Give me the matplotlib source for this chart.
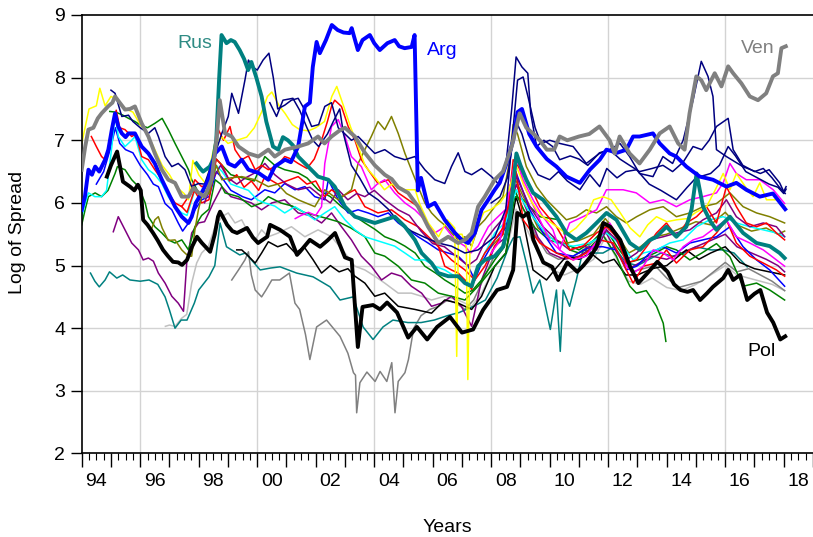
import matplotlib
matplotlib.use("Agg")
import matplotlib.pyplot as plt
from matplotlib.ticker import MultipleLocator

plt.rcParams["font.family"] = ["Liberation Sans", "DejaVu Sans"]

# --- highlighted countries: (year, log spread) ---
ven = [(1994.0, 6.53), (1994.12, 6.9), (1994.23, 7.17), (1994.4, 7.2), (1994.55, 7.35), (1994.68, 7.43),
       (1994.9, 7.54), (1995.05, 7.6), (1995.14, 7.70), (1995.3, 7.6), (1995.48, 7.49), (1995.65, 7.5),
       (1995.82, 7.54), (1996.05, 7.27), (1996.28, 7.06), (1996.5, 6.79), (1996.74, 6.53), (1996.96, 6.37),
       (1997.19, 6.32), (1997.42, 6.10), (1997.65, 6.10), (1997.82, 6.24), (1998.0, 6.16), (1998.2, 6.10),
       (1998.44, 6.37), (1998.62, 7.06), (1998.72, 7.64), (1998.9, 7.11), (1999.13, 7.06), (1999.36, 6.9),
       (1999.7, 6.79), (2000.04, 6.74), (2000.38, 6.85), (2000.6, 6.74), (2000.95, 6.85), (2001.4, 6.9),
       (2001.74, 6.95), (2002.08, 7.06), (2002.3, 6.95), (2002.54, 7.06), (2002.8, 7.15), (2003.0, 7.2),
       (2003.34, 7.06), (2003.68, 6.8), (2004.02, 6.6), (2004.36, 6.45), (2004.6, 6.38), (2004.82, 6.25),
       (2005.16, 6.16), (2005.5, 5.94), (2005.84, 5.62), (2006.19, 5.36), (2006.53, 5.46), (2006.87, 5.36),
       (2007.1, 5.41), (2007.33, 5.52), (2007.55, 5.94), (2007.78, 6.1), (2008.12, 6.37), (2008.4, 6.5),
       (2008.7, 6.9), (2008.97, 7.43), (2009.2, 7.2), (2009.45, 7.1), (2009.66, 7.0), (2009.9, 6.85),
       (2010.15, 6.85), (2010.34, 7.06), (2010.6, 7.0), (2011.0, 7.06), (2011.35, 7.1), (2011.7, 7.22),
       (2012.05, 7.0), (2012.22, 6.79), (2012.39, 7.06), (2012.73, 6.79), (2013.07, 6.63), (2013.42, 6.85),
       (2013.76, 7.11), (2014.1, 7.22), (2014.39, 6.95), (2014.61, 6.85), (2014.78, 7.43), (2015.01, 8.02),
       (2015.18, 7.96), (2015.35, 7.8), (2015.64, 8.07), (2015.87, 7.86), (2016.1, 8.18), (2016.27, 8.07),
       (2016.55, 7.91), (2016.84, 7.7), (2017.12, 7.64), (2017.4, 7.75), (2017.63, 8.02), (2017.8, 8.07),
       (2017.92, 8.47), (2018.07, 8.5)]

arg = [(1994.0, 5.89), (1994.11, 6.10), (1994.23, 6.53), (1994.35, 6.45), (1994.46, 6.58), (1994.6, 6.5),
       (1994.8, 6.69), (1994.91, 6.85), (1995.03, 7.17), (1995.14, 7.43), (1995.25, 7.22), (1995.37, 7.11),
       (1995.5, 7.05), (1995.6, 7.11), (1995.82, 7.11), (1995.94, 7.0), (1996.05, 6.9), (1996.28, 6.79),
       (1996.5, 6.63), (1996.74, 6.37), (1996.96, 6.16), (1997.19, 5.94), (1997.42, 5.78), (1997.65, 5.68),
       (1997.76, 5.78), (1997.9, 6.0), (1998.1, 6.16), (1998.33, 6.37), (1998.56, 6.79), (1998.79, 6.9),
       (1999.01, 6.63), (1999.24, 6.58), (1999.47, 6.69), (1999.7, 6.53), (2000.04, 6.48), (2000.38, 6.37),
       (2000.6, 6.58), (2000.95, 6.69), (2001.15, 6.65), (2001.4, 6.9), (2001.63, 7.54), (2001.8, 7.6),
       (2001.9, 8.17), (2002.03, 8.57), (2002.14, 8.39), (2002.35, 8.6), (2002.55, 8.84), (2002.75, 8.76),
       (2002.95, 8.72), (2003.16, 8.71), (2003.23, 8.79), (2003.44, 8.44), (2003.6, 8.6), (2003.85, 8.68),
       (2004.0, 8.55), (2004.19, 8.44), (2004.45, 8.55), (2004.7, 8.6), (2004.85, 8.5), (2005.04, 8.47),
       (2005.28, 8.49), (2005.38, 8.68), (2005.49, 6.2), (2005.6, 6.4), (2005.84, 5.94), (2006.07, 6.0),
       (2006.41, 5.73), (2006.76, 5.52), (2006.99, 5.41), (2007.21, 5.36), (2007.44, 5.52), (2007.67, 5.89),
       (2007.9, 6.05), (2008.12, 6.21), (2008.29, 6.32), (2008.5, 6.6), (2008.75, 7.0), (2008.9, 7.45),
       (2009.05, 7.5), (2009.3, 7.1), (2009.55, 6.9), (2009.9, 6.7), (2010.23, 6.58), (2010.57, 6.42),
       (2011.03, 6.32), (2011.37, 6.53), (2011.71, 6.69), (2011.94, 6.85), (2012.3, 6.8), (2012.62, 6.85),
       (2012.85, 7.06), (2013.07, 7.06), (2013.53, 7.11), (2013.76, 6.95), (2014.1, 6.79), (2014.33, 6.74),
       (2014.67, 6.58), (2015.13, 6.42), (2015.58, 6.37), (2016.04, 6.26), (2016.38, 6.32), (2016.72, 6.21),
       (2017.18, 6.1), (2017.63, 6.15), (2018.05, 5.9)]

rus = [(1997.92, 6.63), (1998.05, 6.55), (1998.15, 6.5), (1998.38, 6.58), (1998.5, 6.7), (1998.6, 7.0),
       (1998.7, 8.0), (1998.78, 8.68), (1998.95, 8.55), (1999.1, 8.6), (1999.23, 8.57), (1999.4, 8.44),
       (1999.55, 8.3), (1999.69, 8.12), (1999.8, 8.25), (1999.97, 8.0), (2000.15, 7.7), (2000.31, 7.3),
       (2000.54, 6.9), (2000.72, 6.85), (2000.88, 7.05), (2001.05, 7.0), (2001.22, 6.92), (2001.4, 6.74),
       (2001.74, 6.58), (2002.08, 6.42), (2002.43, 6.37), (2002.65, 6.26), (2003.0, 5.94), (2003.34, 5.78),
       (2003.68, 5.73), (2004.02, 5.68), (2004.36, 5.73), (2004.7, 5.78), (2005.05, 5.62), (2005.39, 5.41),
       (2005.62, 5.2), (2005.96, 5.04), (2006.19, 4.88), (2006.53, 4.83), (2006.87, 4.83), (2007.1, 4.72),
       (2007.33, 4.67), (2007.55, 4.99), (2007.78, 5.09), (2008.12, 5.15), (2008.4, 5.3), (2008.63, 5.73),
       (2008.86, 6.79), (2009.0, 6.6), (2009.2, 6.37), (2009.43, 6.16), (2009.77, 6.05), (2010.23, 5.78),
       (2010.57, 5.52), (2010.91, 5.41), (2011.25, 5.52), (2011.6, 5.68), (2011.94, 5.84), (2012.28, 5.73),
       (2012.74, 5.36), (2013.08, 5.25), (2013.4, 5.4), (2013.65, 5.46), (2013.99, 5.62), (2014.33, 5.46),
       (2014.67, 5.62), (2014.85, 5.9), (2015.02, 6.47), (2015.24, 5.94), (2015.5, 5.7), (2015.7, 5.57),
       (2016.16, 5.78), (2016.61, 5.52), (2017.07, 5.36), (2017.52, 5.31), (2017.86, 5.2), (2018.03, 5.12)]

pol = [(1994.86, 6.42), (1995.0, 6.6), (1995.21, 6.82), (1995.41, 6.34), (1995.65, 6.26), (1995.8, 6.2),
       (1995.92, 6.29), (1996.02, 6.2), (1996.10, 5.73), (1996.25, 5.65), (1996.44, 5.52), (1996.6, 5.4),
       (1996.78, 5.25), (1996.95, 5.15), (1997.12, 5.06), (1997.3, 5.05), (1997.43, 5.01), (1997.60, 5.09),
       (1997.77, 5.3), (1997.94, 5.46), (1998.11, 5.36), (1998.39, 5.22), (1998.55, 5.5), (1998.66, 5.78),
       (1998.73, 5.86), (1998.97, 5.65), (1999.15, 5.55), (1999.31, 5.52), (1999.65, 5.6), (1999.85, 5.45),
       (2000.03, 5.36), (2000.34, 5.46), (2000.44, 5.65), (2000.78, 5.57), (2001.12, 5.46), (2001.36, 5.17),
       (2001.46, 5.22), (2001.80, 5.41), (2002.15, 5.3), (2002.4, 5.4), (2002.66, 5.52), (2003.0, 5.13),
       (2003.23, 5.09), (2003.44, 3.7), (2003.6, 4.34), (2003.96, 4.37), (2004.2, 4.3), (2004.44, 4.41),
       (2004.78, 4.25), (2005.16, 3.85), (2005.46, 4.02), (2005.81, 3.82), (2006.15, 4.02), (2006.59, 4.18),
       (2007.0, 3.93), (2007.38, 3.98), (2007.72, 4.29), (2008.2, 4.61), (2008.54, 4.66), (2008.75, 4.93),
       (2008.89, 5.84), (2009.09, 5.78), (2009.26, 5.84), (2009.44, 5.41), (2009.78, 5.05), (2010.08, 4.98),
       (2010.29, 4.77), (2010.6, 5.05), (2010.94, 4.9), (2011.15, 5.0), (2011.39, 5.14), (2011.6, 5.3),
       (2011.83, 5.68), (2012.07, 5.62), (2012.41, 5.41), (2012.75, 4.98), (2013.03, 4.72), (2013.34, 4.88),
       (2013.68, 5.06), (2014.03, 4.9), (2014.25, 4.7), (2014.47, 4.61), (2014.71, 4.58), (2014.90, 4.61),
       (2015.14, 4.45), (2015.38, 4.56), (2015.58, 4.66), (2015.93, 4.8), (2016.10, 4.93), (2016.27, 4.77),
       (2016.51, 4.85), (2016.75, 4.45), (2017.0, 4.55), (2017.20, 4.61), (2017.43, 4.25), (2017.64, 4.09),
       (2017.88, 3.82), (2018.05, 3.87)]

# --- other countries ---
yellow = [(1994.0, 6.95), (1994.25, 7.5), (1994.5, 7.55), (1994.62, 7.83), (1994.8, 7.55), (1995.0, 7.7),
          (1995.2, 7.65), (1995.5, 7.5), (1995.75, 7.45), (1996.0, 7.25), (1996.25, 7.1), (1996.5, 6.85),
          (1996.75, 6.6), (1997.0, 6.45), (1997.25, 6.25), (1997.5, 6.15), (1997.65, 6.05), (1997.8, 6.68),
          (1998.0, 6.45), (1998.25, 6.3), (1998.55, 6.95), (1998.8, 7.05), (1999.0, 6.95), (1999.3, 7.0),
          (1999.64, 7.05), (1999.9, 7.2), (2000.15, 7.45), (2000.35, 7.7), (2000.5, 7.77), (2000.75, 7.55),
          (2000.95, 7.43), (2001.2, 7.25), (2001.45, 7.17), (2001.75, 7.15), (2002.0, 7.2), (2002.3, 7.3),
          (2002.55, 7.7), (2002.72, 7.86), (2002.95, 7.55), (2003.2, 7.2), (2003.45, 6.9), (2003.7, 6.58),
          (2004.0, 6.42), (2004.35, 6.21), (2004.6, 6.3), (2005.05, 6.21), (2005.4, 6.21), (2005.55, 5.99),
          (2005.85, 5.68), (2006.2, 5.46), (2006.5, 5.73), (2006.75, 5.6), (2006.82, 3.55), (2006.88, 5.5),
          (2007.0, 5.5), (2007.15, 5.3), (2007.2, 3.18), (2007.27, 5.2), (2007.5, 5.6), (2007.75, 5.85),
          (2008.0, 5.9), (2008.3, 6.0), (2008.6, 6.2), (2008.85, 6.6), (2009.1, 6.3), (2009.4, 6.0),
          (2009.7, 5.8), (2010.0, 5.7), (2010.3, 5.6), (2010.6, 5.5), (2010.9, 5.6), (2011.25, 5.78),
          (2011.5, 6.05), (2011.82, 6.10), (2012.1, 6.05), (2012.4, 5.85), (2012.75, 5.6), (2013.08, 5.46),
          (2013.35, 5.65), (2013.65, 5.78), (2014.0, 5.7), (2014.33, 5.73), (2014.7, 5.75), (2015.0, 5.85),
          (2015.36, 5.94), (2015.65, 6.2), (2015.93, 6.47), (2016.16, 6.21), (2016.38, 6.47), (2016.7, 6.25),
          (2016.95, 6.10), (2017.18, 6.32), (2017.41, 6.05), (2017.75, 6.05), (2018.05, 5.94)]

navy_a = [(1995.0, 7.8), (1995.14, 7.75), (1995.37, 7.38), (1995.6, 7.4), (1995.75, 7.3), (1996.0, 7.2),
          (1996.28, 7.11), (1996.5, 7.2), (1996.62, 7.06), (1996.85, 6.74), (1997.08, 6.58), (1997.3, 6.63),
          (1997.53, 6.53), (1997.76, 6.26), (1997.99, 6.31), (1998.2, 6.3), (1998.5, 6.7), (1998.79, 7.11),
          (1999.01, 7.38), (1999.13, 7.75), (1999.36, 7.43), (1999.58, 7.96), (1999.7, 8.28), (1999.85, 8.17),
          (2000.0, 8.12), (2000.2, 8.28), (2000.4, 8.39), (2000.55, 8.0), (2000.7, 7.5), (2000.94, 7.56),
          (2001.17, 7.64), (2001.4, 7.67), (2001.63, 7.48), (2001.86, 7.22), (2002.1, 7.25), (2002.31, 7.54),
          (2002.54, 7.6), (2002.77, 7.2), (2003.0, 7.1), (2003.22, 7.0), (2003.45, 7.06), (2003.68, 6.95),
          (2004.02, 6.79), (2004.36, 6.85), (2004.7, 6.74), (2005.05, 6.69), (2005.39, 6.74), (2005.73, 6.53),
          (2006.07, 6.37), (2006.41, 6.31), (2006.64, 6.58), (2006.87, 6.8), (2007.1, 6.5), (2007.33, 6.45),
          (2007.67, 6.55), (2008.01, 6.42), (2008.25, 6.3), (2008.5, 6.6), (2008.7, 7.5), (2008.85, 8.33),
          (2009.05, 8.17), (2009.25, 8.07), (2009.35, 7.43), (2009.55, 6.9), (2009.8, 7.0), (2010.1, 6.9),
          (2010.34, 6.69), (2010.7, 6.75), (2011.0, 6.7), (2011.3, 6.6), (2011.7, 6.8), (2012.05, 6.85),
          (2012.4, 6.7), (2012.73, 6.6), (2013.07, 6.5), (2013.5, 6.55), (2013.87, 6.6), (2014.2, 6.5),
          (2014.56, 6.65), (2014.9, 6.9), (2015.2, 6.85), (2015.45, 7.0), (2015.7, 7.22), (2016.1, 7.35),
          (2016.27, 6.85), (2016.6, 6.6), (2017.0, 6.5), (2017.3, 6.55), (2017.6, 6.4), (2017.85, 6.25),
          (2018.05, 6.15)]

navy_b = [(2000.43, 7.6), (2000.66, 7.38), (2000.88, 7.64), (2001.22, 7.67), (2001.45, 7.48), (2001.7, 7.2),
          (2001.9, 7.0), (2002.1, 6.9), (2002.4, 7.1), (2002.6, 7.3), (2002.82, 7.5), (2002.95, 7.1),
          (2003.22, 6.6), (2003.5, 6.4), (2003.79, 6.16), (2004.13, 6.05), (2004.48, 5.9), (2004.82, 5.7),
          (2005.27, 5.55), (2005.73, 5.45), (2006.19, 5.36), (2006.64, 5.31), (2007.1, 5.2), (2007.55, 5.25),
          (2008.12, 5.46), (2008.5, 5.9), (2008.75, 7.2), (2008.9, 7.96), (2009.09, 8.01), (2009.26, 7.69),
          (2009.5, 7.2), (2009.7, 6.95), (2010.0, 7.0), (2010.34, 6.95), (2010.8, 6.9), (2011.25, 6.63),
          (2011.7, 6.79), (2012.05, 6.85), (2012.4, 6.95), (2012.73, 6.74), (2013.07, 6.47), (2013.53, 6.42),
          (2013.87, 6.74), (2014.2, 6.63), (2014.56, 7.0), (2014.9, 7.64), (2015.18, 8.26), (2015.41, 8.02),
          (2015.58, 7.7), (2015.7, 6.85), (2016.04, 6.74), (2016.6, 6.58), (2017.2, 6.47), (2017.5, 6.53),
          (2017.86, 6.32), (2018.0, 6.18), (2018.08, 6.26)]

navy_c = [(2008.0, 6.0), (2008.3, 6.1), (2008.55, 6.4), (2008.85, 7.3), (2009.05, 7.1), (2009.3, 6.7),
          (2009.6, 6.45), (2010.0, 6.37), (2010.3, 6.5), (2010.6, 6.35), (2011.03, 6.21), (2011.37, 6.45),
          (2011.71, 6.26), (2011.95, 6.55), (2012.3, 6.4), (2012.6, 6.5), (2012.97, 6.53), (2013.4, 6.3),
          (2013.8, 6.2), (2014.33, 6.05), (2014.7, 6.25), (2015.0, 6.4), (2015.5, 6.47), (2015.8, 6.6),
          (2016.1, 6.9), (2016.35, 6.75), (2016.7, 6.5), (2017.1, 6.4), (2017.5, 6.3), (2017.8, 6.25),
          (2018.0, 6.15), (2018.08, 6.22)]

red_a = [(1994.33, 7.06), (1994.5, 6.9), (1994.68, 6.74), (1994.8, 6.69), (1994.95, 6.9), (1995.05, 7.2),
         (1995.18, 7.48), (1995.3, 7.2), (1995.48, 7.17), (1995.71, 7.06), (1995.85, 7.1), (1996.05, 6.74),
         (1996.28, 6.69), (1996.5, 6.53), (1996.74, 6.37), (1996.96, 6.16), (1997.19, 6.0), (1997.42, 5.94),
         (1997.65, 6.1), (1997.87, 6.37), (1998.1, 6.26), (1998.35, 6.3), (1998.55, 6.8), (1998.67, 7.17),
         (1998.85, 7.0), (1999.07, 7.22), (1999.24, 6.85), (1999.47, 6.69), (1999.7, 6.75), (1999.93, 6.53),
         (2000.15, 6.6), (2000.38, 6.53), (2000.7, 6.6), (2000.94, 6.74), (2001.17, 6.7), (2001.4, 6.63),
         (2001.7, 6.55), (2001.95, 6.7), (2002.2, 7.0), (2002.4, 7.3), (2002.54, 7.54), (2002.65, 7.64),
         (2002.88, 7.54), (2003.11, 7.22), (2003.34, 7.0), (2003.56, 6.69), (2003.79, 6.53), (2004.13, 6.31),
         (2004.48, 6.37), (2004.82, 6.16), (2005.16, 6.05), (2005.5, 5.94), (2005.73, 5.73), (2005.96, 5.52),
         (2006.19, 5.31), (2006.41, 4.99), (2006.64, 4.93), (2006.87, 4.88), (2007.1, 4.77), (2007.33, 4.62),
         (2007.55, 4.99), (2007.78, 5.2), (2008.12, 5.41), (2008.4, 5.6), (2008.6, 6.0), (2008.75, 6.69),
         (2009.09, 6.47), (2009.4, 6.2), (2009.66, 5.94), (2010.23, 5.62), (2010.68, 5.25), (2011.14, 5.31),
         (2011.6, 5.52), (2011.94, 5.62), (2012.28, 5.46), (2012.62, 5.04), (2012.97, 5.09), (2013.31, 5.3),
         (2013.65, 5.52), (2013.99, 5.68), (2014.33, 5.46), (2014.67, 5.68), (2015.02, 5.78), (2015.36, 5.94),
         (2015.7, 5.68), (2016.04, 6.26), (2016.38, 5.94), (2016.72, 5.68), (2017.07, 5.62), (2017.41, 5.68),
         (2017.75, 5.52), (2018.03, 5.41)]

red_b = [(1997.4, 5.95), (1997.6, 5.85), (1997.85, 6.2), (1998.1, 6.0), (1998.35, 6.05), (1998.6, 6.7),
         (1998.8, 6.6), (1999.05, 6.35), (1999.3, 6.45), (1999.55, 6.25), (1999.8, 6.35), (2000.05, 6.2),
         (2000.26, 6.42), (2000.7, 6.3), (2001.0, 6.35), (2001.4, 6.42), (2001.7, 6.3), (2002.0, 6.35),
         (2002.3, 6.1), (2002.54, 6.21), (2002.88, 6.1), (2003.34, 6.21), (2003.68, 5.94), (2004.13, 5.84),
         (2004.59, 5.89), (2005.05, 5.73), (2005.5, 5.62), (2005.96, 5.41), (2006.3, 5.25), (2006.64, 5.09),
         (2007.1, 4.93), (2007.44, 4.77), (2007.78, 4.99), (2008.12, 5.31), (2008.4, 5.5), (2008.63, 6.26),
         (2008.85, 6.5), (2009.09, 5.73), (2009.66, 5.36), (2010.23, 5.2), (2010.8, 5.09), (2011.25, 5.2),
         (2011.71, 5.41), (2012.17, 5.36), (2012.62, 4.93), (2012.85, 4.72), (2013.2, 4.99), (2013.65, 5.04),
         (2013.99, 5.25), (2014.33, 5.04), (2014.79, 5.25), (2015.24, 5.3), (2015.7, 5.52), (2016.04, 5.73),
         (2016.38, 5.36), (2016.84, 5.15), (2017.3, 5.04), (2017.75, 4.93), (2018.03, 4.83)]

green_a = [(1994.0, 5.65), (1994.12, 5.9), (1994.23, 6.1), (1994.46, 6.16), (1994.68, 6.1), (1994.9, 6.2),
           (1995.14, 6.47), (1995.22, 6.58), (1995.48, 6.53), (1995.71, 6.37), (1995.94, 6.26), (1996.17, 6.0),
           (1996.28, 5.78), (1996.5, 5.62), (1996.74, 5.52), (1996.96, 5.41), (1997.19, 5.36), (1997.42, 5.41),
           (1997.65, 5.25), (1997.87, 5.62), (1998.1, 5.8), (1998.35, 5.9), (1998.56, 6.37), (1998.75, 6.3),
           (1998.9, 6.16), (1999.36, 6.1), (1999.81, 5.94), (2000.15, 6.0), (2000.38, 6.1), (2000.8, 6.0),
           (2001.2, 5.95), (2001.6, 5.85), (2002.0, 5.8), (2002.4, 5.75), (2002.77, 5.7), (2003.2, 5.6),
           (2003.68, 5.46), (2004.02, 5.2), (2004.36, 5.15), (2004.82, 4.99), (2005.27, 4.77), (2005.73, 4.72),
           (2006.19, 4.56), (2006.64, 4.51), (2007.1, 4.45), (2007.55, 4.67), (2008.12, 4.99), (2008.5, 5.2),
           (2008.8, 6.1), (2009.09, 6.05), (2009.66, 5.78), (2010.34, 5.73), (2010.68, 5.25), (2011.0, 5.2),
           (2011.4, 5.3), (2011.8, 5.5), (2012.28, 5.15), (2012.5, 4.9), (2012.74, 4.67), (2012.96, 4.56),
           (2013.3, 4.6), (2013.65, 4.35), (2013.88, 4.08), (2013.97, 3.79)]

green_b = [(1994.96, 7.46), (1995.15, 7.45), (1995.37, 7.41), (1995.6, 7.35), (1995.82, 7.3), (1995.98, 7.25),
           (1996.25, 7.2), (1996.5, 7.27), (1996.75, 7.35), (1996.96, 7.17), (1997.19, 6.95), (1997.42, 6.74),
           (1997.65, 6.53), (1997.76, 6.37), (1998.0, 6.16), (1998.3, 6.2), (1998.6, 6.7), (1998.8, 6.6),
           (1999.1, 6.45), (1999.5, 6.4), (1999.9, 6.35), (2000.26, 6.74), (2000.6, 6.6), (2000.94, 6.53),
           (2001.4, 6.48), (2001.7, 6.4), (2002.08, 6.21), (2002.5, 6.1), (2002.88, 5.94), (2003.3, 5.8),
           (2003.68, 5.68), (2004.02, 5.58), (2004.36, 5.46), (2004.7, 5.4), (2005.05, 5.31), (2005.4, 5.2),
           (2005.73, 4.99), (2006.1, 4.88), (2006.41, 4.77), (2006.76, 4.67), (2007.1, 4.56), (2007.35, 4.6),
           (2007.67, 4.77), (2008.12, 5.09), (2008.45, 5.3), (2008.8, 6.2), (2009.1, 5.9), (2009.5, 5.6),
           (2010.0, 5.4), (2010.5, 5.35), (2011.0, 5.25), (2011.5, 5.4), (2011.9, 5.6), (2012.3, 5.3),
           (2012.7, 5.05), (2013.1, 5.1), (2013.6, 5.2), (2014.0, 5.3), (2014.33, 5.25), (2014.79, 5.09),
           (2015.2, 5.2), (2015.7, 5.35), (2016.16, 5.14), (2016.61, 4.67), (2017.07, 4.72), (2017.52, 4.61),
           (2018.03, 4.45)]

cyan = [(1994.0, 5.78), (1994.12, 6.0), (1994.23, 6.16), (1994.45, 6.1), (1994.68, 6.1), (1994.85, 6.2),
        (1995.03, 6.9), (1995.14, 7.43), (1995.25, 7.06), (1995.48, 6.9), (1995.71, 7.0), (1995.82, 7.06),
        (1995.95, 6.85), (1996.05, 6.69), (1996.28, 6.53), (1996.5, 6.45), (1996.74, 6.31), (1996.96, 6.1),
        (1997.19, 5.94), (1997.42, 5.84), (1997.6, 5.8), (1997.87, 6.21), (1998.1, 6.1), (1998.35, 6.15),
        (1998.6, 6.6), (1998.8, 6.5), (1999.1, 6.3), (1999.4, 6.25), (1999.7, 6.2), (2000.0, 6.05),
        (2000.26, 6.0), (2000.6, 5.95), (2000.94, 5.84), (2001.29, 5.94), (2001.63, 5.84), (2001.97, 5.73),
        (2002.31, 5.84), (2002.65, 5.94), (2003.0, 5.73), (2003.34, 5.57), (2003.68, 5.46), (2004.02, 5.41),
        (2004.36, 5.36), (2004.7, 5.31), (2005.05, 5.2), (2005.39, 5.09), (2005.73, 5.09), (2006.07, 4.99),
        (2006.41, 4.93), (2006.76, 4.83), (2007.1, 4.77), (2007.33, 4.67), (2007.55, 4.99), (2007.9, 5.31),
        (2008.12, 5.52), (2008.5, 5.7), (2008.86, 6.21), (2009.32, 5.84), (2009.77, 5.57), (2010.23, 5.36),
        (2010.8, 5.31), (2011.37, 5.36), (2011.94, 5.52), (2012.51, 5.3), (2012.85, 5.09), (2013.2, 5.2),
        (2013.65, 5.25), (2014.1, 5.36), (2014.56, 5.41), (2015.02, 5.62), (2015.47, 5.73), (2015.93, 5.78),
        (2016.38, 5.68), (2016.84, 5.62), (2017.3, 5.57), (2017.75, 5.52), (2018.03, 5.46)]

magenta_a = [(2001.3, 5.75), (2001.5, 5.8), (2001.75, 5.85), (2002.0, 5.8), (2002.2, 5.94), (2002.31, 6.63),
             (2002.54, 7.22), (2002.77, 7.33), (2003.0, 7.06), (2003.22, 6.74), (2003.56, 6.58), (2003.9, 6.21),
             (2004.1, 6.3), (2004.36, 6.37), (2004.7, 6.16), (2005.05, 6.0), (2005.39, 5.89), (2005.73, 5.73),
             (2006.07, 5.52), (2006.41, 5.62), (2006.76, 5.41), (2007.1, 5.31), (2007.3, 5.2), (2007.55, 5.31),
             (2007.9, 5.62), (2008.12, 5.73), (2008.5, 5.9), (2008.86, 6.79), (2009.09, 6.37), (2009.43, 6.05),
             (2009.77, 5.78), (2010.11, 5.57), (2010.34, 5.25), (2010.68, 5.68), (2011.14, 5.78), (2011.6, 5.89),
             (2011.94, 6.21), (2012.51, 6.21), (2012.96, 6.16), (2013.42, 6.0), (2013.88, 6.05), (2014.33, 5.94),
             (2014.79, 6.05), (2015.24, 6.1), (2015.7, 6.16), (2015.93, 6.32), (2016.16, 6.63), (2016.38, 6.47),
             (2016.72, 6.37), (2017.18, 6.37), (2017.64, 6.21), (2018.03, 5.99)]

magenta_b = [(2008.0, 5.2), (2008.3, 5.4), (2008.63, 6.21), (2008.86, 6.74), (2009.1, 6.3), (2009.66, 5.73),
             (2010.0, 5.41), (2010.34, 5.25), (2010.8, 5.09), (2011.25, 5.15), (2011.71, 5.46), (2012.05, 5.68),
             (2012.4, 5.41), (2012.62, 4.99), (2012.85, 4.88), (2013.2, 4.99), (2013.54, 5.25), (2013.88, 5.2),
             (2014.22, 5.09), (2014.56, 5.3), (2014.9, 5.41), (2015.24, 5.46), (2015.7, 5.62), (2016.04, 5.73),
             (2016.38, 5.46), (2016.84, 5.36), (2017.3, 5.25), (2017.75, 5.09), (2018.03, 4.99)]

purple_a = [(1995.08, 5.54), (1995.25, 5.78), (1995.48, 5.57), (1995.71, 5.36), (1995.94, 5.25), (1996.1, 5.09),
            (1996.28, 5.12), (1996.45, 5.07), (1996.62, 4.88), (1996.85, 4.72), (1997.08, 4.51), (1997.3, 4.4),
            (1997.48, 4.27), (1997.59, 5.04), (1997.76, 5.52), (1997.99, 5.68), (1998.2, 5.7), (1998.5, 6.0),
            (1998.79, 6.26), (1999.1, 6.1), (1999.47, 6.05), (1999.8, 6.0), (2000.15, 5.89), (2000.5, 6.0),
            (2000.94, 6.05), (2001.4, 5.84), (2001.8, 5.8), (2002.2, 5.68), (2002.54, 5.84), (2002.88, 5.62),
            (2003.22, 5.41), (2003.56, 5.15), (2003.9, 4.99), (2004.25, 4.77), (2004.59, 4.88), (2004.93, 4.83),
            (2005.27, 4.67), (2005.62, 4.56), (2005.96, 4.35), (2006.3, 4.4), (2006.64, 4.51), (2006.98, 4.35),
            (2007.33, 4.03), (2007.67, 4.77), (2008.12, 5.31), (2008.5, 5.45), (2008.85, 6.3), (2009.2, 5.9),
            (2009.6, 5.45), (2010.0, 5.2), (2010.5, 5.1), (2011.0, 5.15), (2011.5, 5.3), (2011.9, 5.55),
            (2012.3, 5.2), (2012.7, 4.95), (2013.1, 5.05), (2013.5, 5.15), (2014.0, 5.1), (2014.5, 5.2),
            (2015.0, 5.3), (2015.5, 5.4), (2016.0, 5.5), (2016.4, 5.3), (2016.9, 5.2), (2017.4, 5.1),
            (2017.8, 5.0), (2018.03, 4.9)]

purple_b = [(1998.2, 6.0), (1998.5, 6.4), (1998.75, 6.6), (1999.0, 6.4), (1999.3, 6.3), (1999.6, 6.4),
            (2000.0, 6.5), (2000.26, 6.63), (2000.6, 6.45), (2001.0, 6.3), (2001.4, 6.21), (2001.8, 6.25),
            (2002.2, 6.1), (2002.5, 6.0), (2002.77, 6.21), (2003.1, 6.05), (2003.4, 6.15), (2003.68, 6.1),
            (2004.0, 6.2), (2004.36, 6.05), (2004.82, 5.89), (2005.2, 5.8), (2005.6, 5.55), (2006.0, 5.35),
            (2006.4, 5.3), (2006.8, 5.15), (2007.2, 5.0), (2007.5, 5.1), (2007.8, 5.4), (2008.12, 5.6),
            (2008.5, 5.8), (2008.86, 6.42), (2009.32, 5.94), (2009.77, 5.62), (2010.23, 5.41), (2010.68, 5.25),
            (2011.14, 5.31), (2011.6, 5.25), (2011.94, 5.57), (2012.28, 5.41), (2012.62, 5.09), (2012.97, 5.2),
            (2013.42, 5.41), (2013.88, 5.46), (2014.33, 5.52), (2014.79, 5.57), (2015.24, 5.73), (2015.7, 5.84),
            (2016.04, 6.05), (2016.38, 5.78), (2016.84, 5.62), (2017.3, 5.68), (2017.75, 5.62), (2018.03, 5.46)]

olive_a = [(1996.4, 5.6), (1996.5, 5.73), (1996.62, 5.78), (1996.75, 5.6), (1996.96, 5.4), (1997.19, 5.41),
           (1997.42, 5.25), (1997.53, 5.2), (1997.65, 5.15), (1997.76, 5.15), (1997.87, 5.57), (1997.99, 5.89),
           (1998.1, 6.1), (1998.35, 6.15), (1998.6, 6.6), (1998.79, 6.37), (1999.1, 6.4), (1999.47, 6.42),
           (1999.93, 6.37), (2000.38, 6.26), (2000.7, 6.3), (2001.0, 6.15), (2001.4, 6.05), (2001.97, 5.94),
           (2002.31, 6.21), (2002.77, 6.05), (2003.22, 6.21), (2003.45, 6.63), (2003.68, 6.85), (2003.9, 7.06),
           (2004.13, 7.3), (2004.36, 7.17), (2004.59, 7.38), (2004.82, 7.11), (2005.05, 6.79), (2005.27, 6.53),
           (2005.5, 6.26), (2005.73, 6.0), (2005.96, 5.84), (2006.19, 5.73), (2006.4, 5.65), (2006.64, 5.52),
           (2006.87, 5.41), (2007.1, 5.46), (2007.33, 5.31), (2007.55, 5.62), (2007.78, 5.73), (2008.12, 5.94),
           (2008.4, 6.1), (2008.6, 6.6), (2008.75, 7.25), (2008.9, 7.1), (2009.2, 6.58), (2009.55, 6.26),
           (2009.89, 6.05), (2010.23, 5.89), (2010.57, 5.73), (2010.91, 5.78), (2011.25, 5.89), (2011.6, 5.84),
           (2011.94, 5.94), (2012.28, 5.78), (2012.62, 5.68), (2012.97, 5.78), (2013.42, 5.89), (2013.88, 5.94),
           (2014.33, 5.78), (2014.79, 5.84), (2015.24, 5.94), (2015.7, 5.99), (2016.16, 6.16), (2016.61, 5.94),
           (2017.07, 5.84), (2017.52, 5.78), (2018.03, 5.68)]

olive_b = [(2008.0, 5.3), (2008.4, 5.5), (2008.8, 6.4), (2009.2, 6.0), (2009.6, 5.6), (2010.0, 5.45),
           (2010.5, 5.35), (2011.0, 5.4), (2011.5, 5.5), (2011.9, 5.75), (2012.3, 5.5), (2012.7, 5.2),
           (2013.1, 5.3), (2013.5, 5.45), (2014.0, 5.5), (2014.5, 5.6), (2015.0, 5.7), (2015.5, 5.65),
           (2016.0, 5.85), (2016.4, 5.65), (2016.9, 5.55), (2017.4, 5.6), (2017.8, 5.5), (2018.03, 5.55)]

gray_thin = [(1999.13, 4.77), (1999.36, 4.93), (1999.58, 5.09), (1999.7, 5.22), (1999.8, 4.85), (1999.93, 4.61),
             (2000.15, 4.5), (2000.3, 4.61), (2000.5, 4.77), (2000.77, 4.77), (2001.1, 4.88), (2001.29, 4.4),
             (2001.45, 4.3), (2001.65, 3.9), (2001.8, 3.5), (2002.03, 4.02), (2002.37, 4.13), (2002.6, 4.0),
             (2002.83, 3.87), (2003.1, 3.6), (2003.29, 3.29), (2003.36, 3.25), (2003.40, 2.65), (2003.51, 3.13),
             (2003.75, 3.3), (2004.03, 3.15), (2004.2, 3.31), (2004.43, 3.15), (2004.6, 3.45), (2004.71, 2.65),
             (2004.82, 3.15), (2005.05, 3.29), (2005.17, 3.5), (2005.35, 4.0), (2005.6, 4.2), (2005.9, 4.3),
             (2006.2, 4.35), (2006.5, 4.45), (2006.8, 4.4), (2007.1, 4.3), (2007.4, 4.45), (2007.7, 4.75),
             (2008.1, 5.15), (2008.45, 5.35), (2008.8, 6.2), (2009.1, 5.9), (2009.5, 5.5), (2009.9, 5.2),
             (2010.3, 5.1), (2010.8, 5.15), (2011.3, 5.3), (2011.7, 5.5), (2012.0, 5.7), (2012.4, 5.3),
             (2012.8, 4.9), (2013.2, 4.95), (2013.6, 5.0), (2014.0, 4.8), (2014.4, 4.65), (2014.8, 4.7),
             (2015.2, 4.75), (2015.6, 4.9), (2016.0, 5.05), (2016.4, 4.9), (2016.8, 4.95), (2017.2, 4.85),
             (2017.6, 4.75), (2018.03, 4.6)]

silver = [(1996.86, 4.03), (1997.0, 4.05), (1997.19, 4.03), (1997.42, 4.16), (1997.59, 4.22), (1997.76, 4.72),
          (1997.93, 5.04), (1998.1, 5.2), (1998.33, 5.31), (1998.56, 5.62), (1998.79, 5.78), (1999.01, 5.84),
          (1999.24, 5.68), (1999.47, 5.73), (1999.7, 5.52), (1999.93, 5.41), (2000.15, 5.57), (2000.38, 5.46),
          (2000.72, 5.52), (2001.17, 5.62), (2001.63, 5.46), (2002.08, 5.57), (2002.54, 5.46), (2003.0, 5.2),
          (2003.34, 4.99), (2003.68, 4.93), (2004.02, 4.83), (2004.36, 4.72), (2004.82, 4.56), (2005.27, 4.56),
          (2005.62, 4.51), (2005.96, 4.45), (2006.41, 4.51), (2006.87, 4.45), (2007.33, 4.35), (2007.67, 4.56),
          (2008.12, 4.99), (2008.5, 5.2), (2008.85, 5.9), (2009.2, 5.6), (2009.6, 5.2), (2010.0, 4.95),
          (2010.5, 4.85), (2011.0, 4.95), (2011.5, 5.1), (2011.9, 5.45), (2012.3, 5.1), (2012.7, 4.75),
          (2013.1, 4.7), (2013.5, 4.8), (2014.0, 4.65), (2014.5, 4.6), (2015.0, 4.7), (2015.5, 4.85),
          (2016.0, 5.0), (2016.4, 4.85), (2016.8, 4.8), (2017.2, 4.75), (2017.6, 4.7), (2018.03, 4.6)]

blue_thin = [(1994.5, 6.3), (1994.75, 6.5), (1995.0, 6.9), (1995.15, 7.2), (1995.3, 6.95), (1995.5, 6.85),
             (1995.75, 6.8), (1996.0, 6.6), (1996.25, 6.45), (1996.45, 6.3), (1996.62, 6.26), (1996.85, 5.99),
             (1997.08, 5.89), (1997.3, 5.68), (1997.45, 5.55), (1997.65, 5.68), (1997.87, 5.89), (1998.1, 6.05),
             (1998.35, 6.1), (1998.6, 6.5), (1998.8, 6.4), (1999.1, 6.2), (1999.5, 6.1), (1999.8, 6.05),
             (2000.26, 6.21), (2000.6, 6.16), (2000.94, 6.31), (2001.29, 6.21), (2001.63, 6.26), (2001.97, 6.1),
             (2002.31, 6.05), (2002.43, 6.37), (2002.77, 6.05), (2003.11, 5.84), (2003.45, 5.89), (2003.79, 5.84),
             (2004.13, 5.78), (2004.48, 5.84), (2004.82, 5.68), (2005.16, 5.57), (2005.5, 5.46), (2005.84, 5.36),
             (2006.19, 5.25), (2006.53, 5.2), (2006.87, 5.15), (2007.21, 4.99), (2007.44, 4.77), (2007.67, 5.04),
             (2008.12, 5.41), (2008.5, 5.6), (2008.86, 6.47), (2009.32, 5.89), (2009.77, 5.52), (2010.23, 5.2),
             (2010.8, 5.15), (2011.37, 5.3), (2011.82, 5.3), (2012.28, 5.25), (2012.62, 4.93), (2012.97, 4.99),
             (2013.42, 5.2), (2013.88, 5.3), (2014.33, 5.2), (2014.79, 5.36), (2015.24, 5.41), (2015.7, 5.46),
             (2016.16, 5.62), (2016.61, 5.3), (2017.07, 5.09), (2017.52, 4.93), (2018.03, 4.67)]

black_thin = [(1999.3, 5.25), (1999.47, 5.25), (1999.7, 5.15), (1999.93, 5.04), (2000.15, 5.2), (2000.38, 5.38),
              (2000.7, 5.3), (2001.0, 5.35), (2001.3, 5.2), (2001.6, 5.3), (2001.9, 5.1), (2002.2, 4.88),
              (2002.5, 5.0), (2002.8, 4.9), (2003.1, 4.95), (2003.34, 4.83), (2003.68, 4.72), (2004.02, 4.51),
              (2004.36, 4.56), (2004.82, 4.35), (2005.39, 4.3), (2005.96, 4.24), (2006.41, 4.45), (2006.87, 4.4),
              (2007.33, 4.3), (2007.67, 4.51), (2008.12, 4.99), (2008.5, 5.2), (2008.85, 6.1), (2009.1, 5.7),
              (2009.43, 4.93), (2009.89, 4.77), (2010.2, 4.95), (2010.57, 5.15), (2011.0, 5.1), (2011.4, 5.2),
              (2011.82, 5.04), (2012.2, 5.1), (2012.6, 4.85), (2013.0, 4.85), (2013.5, 4.95), (2014.0, 5.0),
              (2014.67, 5.25), (2015.1, 5.1), (2015.5, 5.2), (2016.0, 5.3), (2016.5, 5.05), (2017.0, 4.95),
              (2017.5, 4.9), (2018.03, 4.85)]

teal_thin = [(1994.3, 4.88), (1994.45, 4.75), (1994.6, 4.66), (1994.8, 4.77), (1994.95, 4.9), (1995.2, 4.8),
             (1995.4, 4.85), (1995.65, 4.77), (1996.0, 4.75), (1996.3, 4.77), (1996.6, 4.7), (1996.85, 4.5),
             (1997.0, 4.29), (1997.19, 4.0), (1997.4, 4.13), (1997.6, 4.13), (1997.85, 4.4), (1998.0, 4.61),
             (1998.35, 4.82), (1998.55, 5.0), (1998.73, 5.68), (1998.95, 5.3), (1999.4, 5.17), (1999.6, 5.2),
             (2000.1, 4.93), (2000.45, 4.96), (2000.78, 4.98), (2001.35, 4.88), (2001.91, 4.82), (2002.49, 4.66),
             (2002.83, 4.45), (2003.28, 4.5), (2003.62, 4.02), (2003.96, 3.82), (2004.3, 4.02), (2004.64, 4.13),
             (2005.15, 4.09), (2005.6, 4.09), (2006.05, 4.13), (2006.5, 4.2), (2006.9, 4.25), (2007.4, 4.35),
             (2007.8, 4.45), (2008.2, 4.8), (2008.6, 5.3), (2008.75, 5.44), (2008.98, 5.46), (2009.2, 5.04),
             (2009.43, 4.56), (2009.66, 4.77), (2010.02, 3.98), (2010.23, 4.61), (2010.36, 3.63), (2010.46, 4.61),
             (2010.68, 4.35), (2010.91, 4.77), (2011.14, 5.25), (2011.5, 5.2), (2011.82, 5.2), (2012.2, 5.3),
             (2012.6, 5.05), (2013.0, 5.0), (2013.4, 5.1), (2013.8, 5.2), (2014.2, 5.15), (2014.6, 5.2),
             (2015.0, 5.3), (2015.5, 5.25), (2015.93, 5.25), (2016.3, 5.2), (2016.75, 4.98)]

thin_series = [
    (silver, "#C0C0C0"), (gray_thin, "#808080"), (teal_thin, "#008080"), (purple_a, "#800080"),
    (black_thin, "#000000"), (green_a, "#008000"), (green_b, "#008000"), (olive_b, "#808000"),
    (blue_thin, "#0000FF"), (cyan, "#00FFFF"), (red_b, "#FF0000"), (purple_b, "#800080"),
    (magenta_b, "#FF00FF"), (olive_a, "#808000"), (red_a, "#FF0000"), (magenta_a, "#FF00FF"),
    (yellow, "#FFFF00"), (navy_c, "#000080"), (navy_b, "#000080"), (navy_a, "#000080"),
]
thick_series = [(pol, "#000000"), (rus, "#008080"), (arg, "#0000FF"), (ven, "#808080")]

labels = [("Rus", 1997.85, 8.55, "#2E8B84"), ("Arg", 2006.32, 8.44, "#0000FF"),
          ("Ven", 2017.12, 8.47, "#808080"), ("Pol", 2017.25, 3.63, "#000000")]

year_labels = ["94", "96", "98", "00", "02", "04", "06", "08", "10", "12", "14", "16", "18"]

fig = plt.figure(figsize=(8.13, 5.37), dpi=100)
ax = fig.add_axes([0.1005, 0.1555, 0.8995, 0.8166])

ax.set_xlim(1994, 2019)
ax.set_ylim(2, 9)

# grid: horizontal at every unit, vertical every four years
for y in range(3, 9):
    ax.axhline(y, color="#D3D3D3", lw=1.0, zorder=0)
for yr in range(1996, 2019, 4):
    ax.axvline(yr, color="#D3D3D3", lw=1.0, zorder=0)

for pts, col in thin_series:
    t, v = zip(*pts)
    ax.plot(t, v, color=col, lw=1.1, zorder=2)
for pts, col in thick_series:
    t, v = zip(*pts)
    ax.plot(t, v, color=col, lw=2.8, zorder=3)

for txt, x, y, col in labels:
    ax.text(x, y, txt, color=col, fontsize=14, ha="center", va="center", zorder=4)

for side in ["right"]:
    ax.spines[side].set_visible(False)
for side in ["left", "top", "bottom"]:
    ax.spines[side].set_linewidth(1.2)
    ax.spines[side].set_color("black")

ax.set_yticks(range(2, 10))
ax.tick_params(axis="y", length=8, width=1.0, labelsize=14, pad=4)
ax.xaxis.set_major_locator(MultipleLocator(1))
ax.xaxis.set_minor_locator(MultipleLocator(0.25))
ax.tick_params(axis="x", which="major", length=10, width=1.0, labelbottom=False)
ax.tick_params(axis="x", which="minor", length=5, width=0.8)

sec = ax.secondary_xaxis("bottom")
sec.set_xticks([1994.5 + 2 * i for i in range(len(year_labels))], year_labels)
sec.tick_params(length=0, labelsize=14, pad=14)
sec.spines["bottom"].set_visible(False)

fig.text(447 / 813, 1 - 527 / 537, "Years", ha="center", va="center", fontsize=14)
fig.text(17 / 813, 1 - 232 / 537, "Log of Spread", ha="center", va="center",
         rotation=90, fontsize=14)

fig.savefig("out.png", dpi=100)
